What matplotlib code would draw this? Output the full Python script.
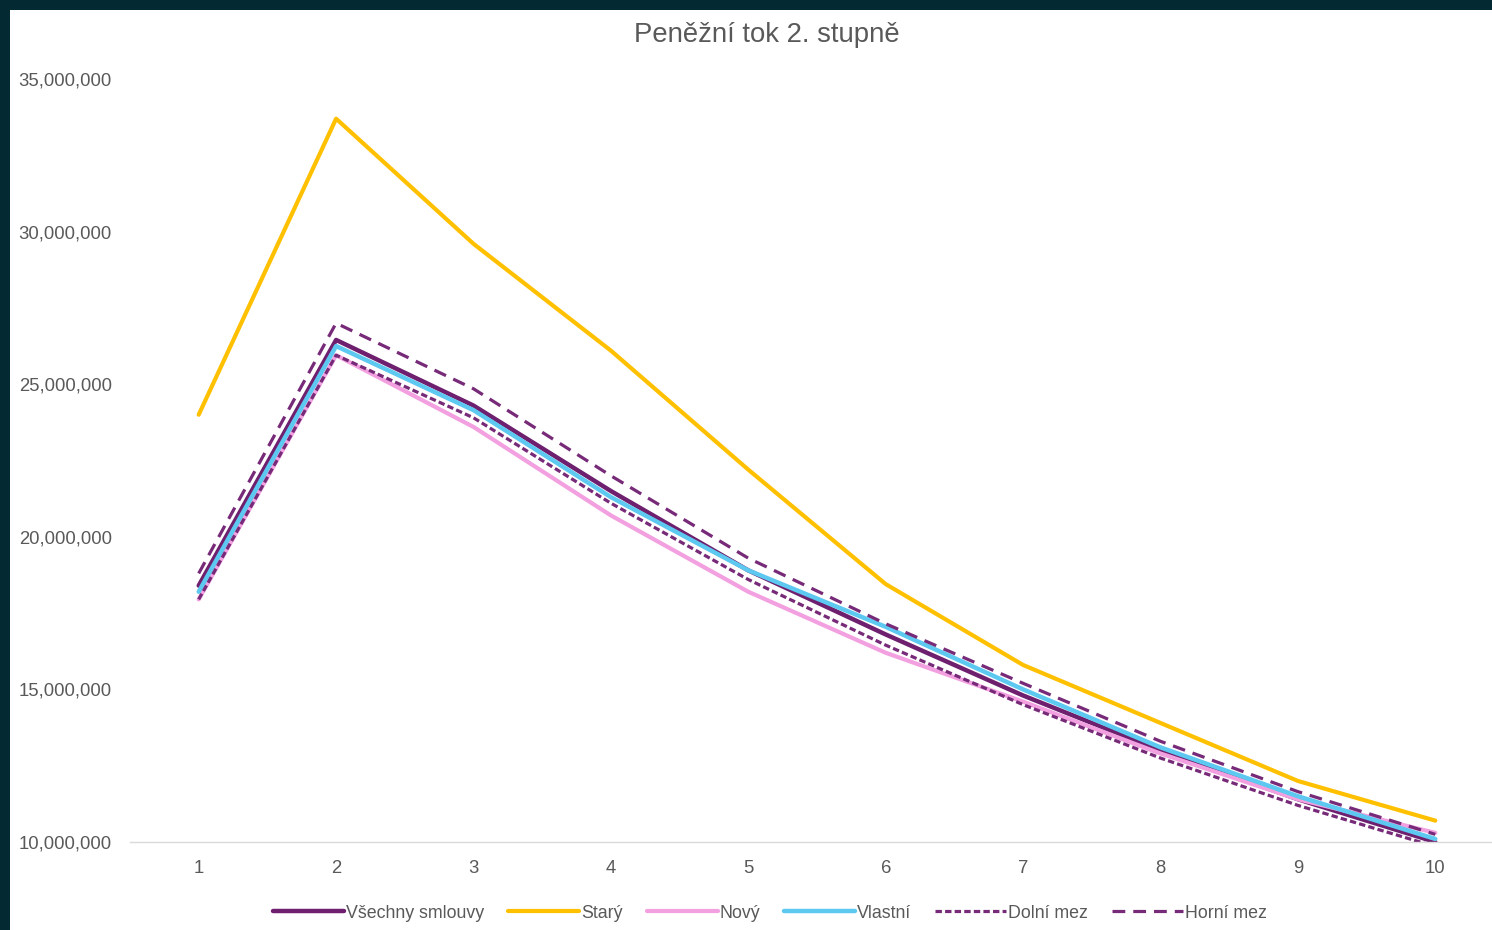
import matplotlib
matplotlib.use("Agg")
import matplotlib.pyplot as plt
from matplotlib.patches import Rectangle
from matplotlib.ticker import FuncFormatter

# ---- data ----
x_labels = ["1", "2", "3", "4", "5", "6", "7", "8", "9", "10"]
vsechny = [18.4, 26.45, 24.3, 21.5, 18.9, 16.8, 14.8, 13.0, 11.4, 10.0]
stary = [24.0, 33.7, 29.6, 26.1, 22.2, 18.45, 15.8, 13.9, 12.0, 10.7]
novy = [17.95, 25.95, 23.6, 20.7, 18.2, 16.2, 14.6, 12.9, 11.4, 10.3]
vlastni = [18.2, 26.25, 24.15, 21.3, 18.9, 17.05, 15.0, 13.1, 11.5, 10.1]
dolni = [17.95, 25.95, 23.9, 21.1, 18.6, 16.45, 14.5, 12.75, 11.2, 9.85]
horni = [18.8, 27.0, 24.85, 22.0, 19.3, 17.15, 15.2, 13.3, 11.65, 10.25]
series_names = ["Všechny smlouvy", "Starý", "Nový", "Vlastní", "Dolní mez", "Horní mez"]
y_ticks = [10, 15, 20, 25, 30, 35]
title = "Peněžní tok 2. stupně"

plt.rcParams['font.family'] = ['Liberation Sans', 'DejaVu Sans']

W, H = 1492, 930
fig = plt.figure(figsize=(W / 100, H / 100), dpi=100, facecolor="#032a33")
fig.patches.append(Rectangle((10 / W, 0), 1, 1 - 10 / H, transform=fig.transFigure,
                             facecolor="white", edgecolor="none", zorder=-10))

left, right = 130, 1504
bottom, top = 842, 79
ax = fig.add_axes([left / W, 1 - bottom / H, (right - left) / W, (bottom - top) / H])
ax.set_facecolor("none")
ax.set_zorder(1)

xs = list(range(1, len(x_labels) + 1))
M = 1e6
styles = [
    (vsechny, dict(color="#6e1f6e", lw=3.2, ls="-")),
    (stary, dict(color="#ffc000", lw=3.0, ls="-")),
    (novy, dict(color="#f2a0e0", lw=3.0, ls="-")),
    (vlastni, dict(color="#5dc8f0", lw=3.2, ls="-")),
    (dolni, dict(color="#772a78", lw=2.3, ls=(0, (2.0, 1.0)))),
    (horni, dict(color="#772a78", lw=2.3, ls=(0, (4.0, 2.5)))),
]
lines = []
for (vals, st), name in zip(styles, series_names):
    ln, = ax.plot(xs, [v * M for v in vals], label=name,
                  solid_joinstyle="round", solid_capstyle="round",
                  dash_capstyle="butt", **st)
    lines.append(ln)

ax.set_xlim(0.5, 10.5)
ax.set_ylim(10 * M, 35 * M)
ax.set_yticks([t * M for t in y_ticks])
ax.yaxis.set_major_formatter(FuncFormatter(lambda v, p: f"{int(round(v)):,}"))
ax.set_xticks(xs)
ax.set_xticklabels(x_labels)
ax.tick_params(axis="both", length=0, labelsize=13.3, colors="#595959")
ax.tick_params(axis="y", pad=13)
ax.tick_params(axis="x", pad=13)
for s in ["top", "right", "left"]:
    ax.spines[s].set_visible(False)
ax.spines["bottom"].set_color("#d9d9d9")
ax.spines["bottom"].set_linewidth(1.0)

fig.text(767 / W, 1 - 35 / H, title, ha="center", va="center", fontsize=19.8,
         color="#595959")

fig.legend(handles=lines, loc="center", bbox_to_anchor=(770 / W, 1 - 913 / H), ncol=6,
           frameon=False, fontsize=12.8, labelcolor="#595959", handlelength=4.0,
           handletextpad=0.1, columnspacing=1.35)

fig.savefig("out.png", dpi=100, facecolor=fig.get_facecolor())
